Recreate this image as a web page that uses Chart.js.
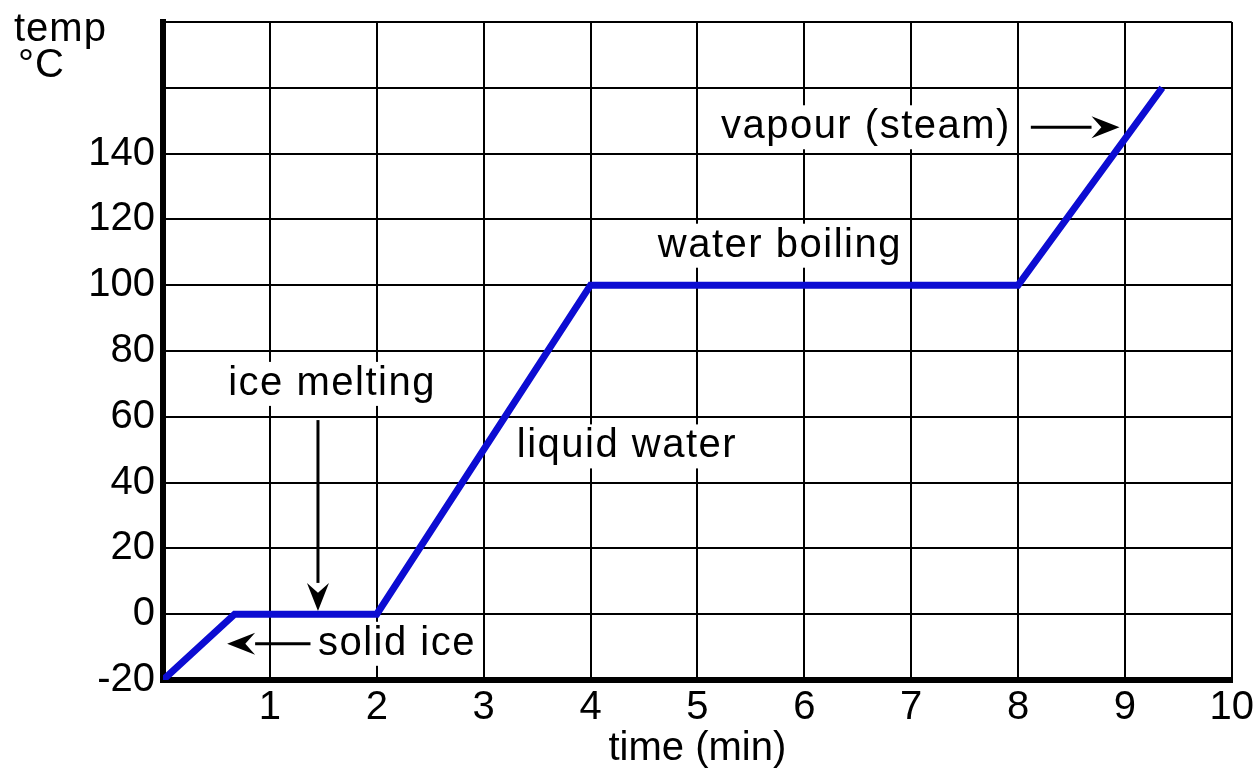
<!DOCTYPE html>
<html>
<head>
<meta charset="utf-8">
<script src="https://cdn.jsdelivr.net/npm/chart.js@4.4.1/dist/chart.umd.min.js"></script>
<style>
  html, body { margin: 0; padding: 0; background: #fff; }
  #wrap { width: 1258px; height: 769px; position: relative; }
</style>
</head>
<body>
<div id="wrap"><canvas id="heatingCurve"></canvas></div>
<script>
const timeMin = [0, 0.67, 2, 4, 8, 9.35];
const tempC = [-20, 0, 0, 100, 100, 160];

const xTicks = [1, 2, 3, 4, 5, 6, 7, 8, 9, 10];
const yTicks = [-20, 0, 20, 40, 60, 80, 100, 120, 140];

// phase labels, anchored at left edge / vertical middle in data units
const labelText = ['ice melting', 'solid ice', 'liquid water', 'water boiling', 'vapour (steam)'];
const labelX = [0.61, 1.45, 3.31, 4.63, 5.22];
const labelY = [70, -9, 51, 112, 148];

// arrows: from -> to (arrowhead at "to")
const arrowFrom = [[1.45, 59], [1.38, -9], [8.12, 148]];
const arrowTo = [[1.45, 1], [0.6, -9], [8.95, 148]];

const FAMILY = '"Liberation Sans", Arial, sans-serif';
const FONT = '40px ' + FAMILY;

const annotations = {
  id: 'annotations',
  afterDatasetsDraw(chart) {
    const { ctx, scales: { x, y } } = chart;
    ctx.save();
    ctx.font = FONT;
    ctx.letterSpacing = '1.5px';
    ctx.textBaseline = 'middle';
    ctx.textAlign = 'left';
    labelText.forEach((t, i) => {
      const px = x.getPixelForValue(labelX[i]);
      const py = y.getPixelForValue(labelY[i]);
      const w = ctx.measureText(t).width;
      ctx.fillStyle = '#fff';
      ctx.fillRect(px - 4, py - 22, w + 8, 44);
      ctx.fillStyle = '#000';
      ctx.fillText(t, px, py);
    });

    arrowFrom.forEach((f, i) => {
      const x1 = x.getPixelForValue(f[0]), y1 = y.getPixelForValue(f[1]);
      const x2 = x.getPixelForValue(arrowTo[i][0]), y2 = y.getPixelForValue(arrowTo[i][1]);
      const ang = Math.atan2(y2 - y1, x2 - x1);
      const headLen = 28, headW = 11;
      const bx = x2 - headLen * Math.cos(ang), by = y2 - headLen * Math.sin(ang);
      ctx.strokeStyle = '#000';
      ctx.lineWidth = 3;
      ctx.beginPath();
      ctx.moveTo(x1, y1);
      ctx.lineTo(bx, by);
      ctx.stroke();
      ctx.fillStyle = '#000';
      ctx.beginPath();
      ctx.moveTo(x2, y2);
      ctx.lineTo(bx + headW * Math.sin(ang), by - headW * Math.cos(ang));
      ctx.lineTo(bx + 0.35 * headLen * Math.cos(ang), by + 0.35 * headLen * Math.sin(ang));
      ctx.lineTo(bx - headW * Math.sin(ang), by + headW * Math.cos(ang));
      ctx.closePath();
      ctx.fill();
    });

    // y axis caption, top-left
    ctx.fillStyle = '#000';
    ctx.letterSpacing = '1px';
    ctx.fillText('temp', 14, 30);
    ctx.fillText('°C', 18, 66);
    ctx.restore();
  }
};

new Chart(document.getElementById('heatingCurve'), {
  type: 'line',
  data: {
    datasets: [{
      data: timeMin.map((t, i) => ({ x: t, y: tempC[i] })),
      borderColor: '#0c0cd2',
      borderWidth: 7,
      pointRadius: 0,
      tension: 0,
      fill: false,
    }]
  },
  options: {
    responsive: true,
    maintainAspectRatio: false,
    animation: false,
    layout: { padding: { top: 22, right: 24, left: 0, bottom: 0 } },
    plugins: {
      legend: { display: false },
      tooltip: { enabled: false },
    },
    scales: {
      x: {
        type: 'linear',
        min: 0,
        max: 10,
        afterBuildTicks: s => { s.ticks = [0].concat(xTicks).map(v => ({ value: v })); },
        afterFit: s => { s.height = 89; },
        ticks: {
          callback: v => (xTicks.includes(v) ? String(v) : ''),
          font: { family: FAMILY, size: 40 },
          color: '#000',
          padding: 4,
          maxRotation: 0,
          autoSkip: false,
        },
        grid: { color: '#000', lineWidth: 2, drawTicks: false },
        border: { color: '#000', width: 6 },
        title: {
          display: true,
          text: 'time (min)',
          color: '#000',
          font: { family: FAMILY, size: 40, lineHeight: 1 },
          padding: 0,
        }
      },
      y: {
        min: -20,
        max: 180,
        afterBuildTicks: s => {
          const all = [];
          for (let v = -20; v <= 180; v += 20) all.push({ value: v });
          s.ticks = all;
        },
        afterFit: s => { s.width = 163; s.paddingTop = 0; },
        ticks: {
          callback: v => (yTicks.includes(v) ? String(v) : ''),
          font: { family: FAMILY, size: 40, lineHeight: 0.5 },
          color: '#000',
          padding: 8,
          autoSkip: false,
        },
        grid: { color: '#000', lineWidth: 2, drawTicks: false },
        border: { color: '#000', width: 6 },
      }
    }
  },
  plugins: [annotations]
});
</script>
</body>
</html>
